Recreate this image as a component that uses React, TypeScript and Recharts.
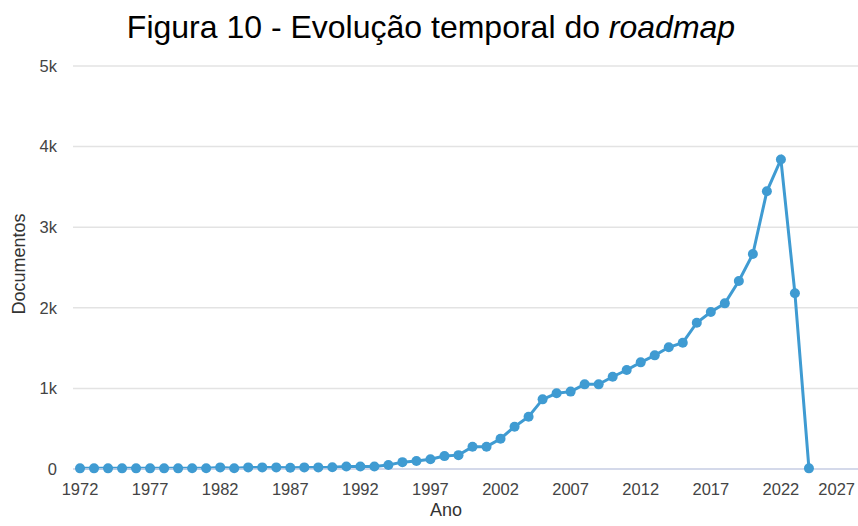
import React from "react";
import { LineChart, Line, XAxis, YAxis, CartesianGrid } from "recharts";

const years = [
  1972, 1973, 1974, 1975, 1976, 1977, 1978, 1979, 1980, 1981, 1982, 1983, 1984,
  1985, 1986, 1987, 1988, 1989, 1990, 1991, 1992, 1993, 1994, 1995, 1996, 1997,
  1998, 1999, 2000, 2001, 2002, 2003, 2004, 2005, 2006, 2007, 2008, 2009, 2010,
  2011, 2012, 2013, 2014, 2015, 2016, 2017, 2018, 2019, 2020, 2021, 2022, 2023,
  2024,
];

const documentos = [
  8, 8, 8, 8, 8, 8, 8, 8, 10, 10, 20, 10, 20,
  20, 20, 15, 20, 20, 22, 30, 30, 30, 50, 85, 100, 120,
  160, 172, 277, 277, 376, 525, 649, 864, 939, 960, 1050, 1050, 1145,
  1228, 1323, 1410, 1510, 1567, 1815, 1948, 2055, 2332, 2667, 3445, 3840, 2180,
  8,
];

const xTicks = [1972, 1977, 1982, 1987, 1992, 1997, 2002, 2007, 2012, 2017, 2022, 2027];
const yTicks = [0, 1000, 2000, 3000, 4000, 5000];

const data = years.map((year, i) => ({ year, docs: documentos[i] }));

const W = 858;
const H = 526;
const blue = "#3f9bd2";
const font = "'Liberation Sans', Arial, sans-serif";

const XTick = (props: any) => {
  const { x, y, payload } = props;
  const tooFar = x + 19 > W;
  return (
    <text
      x={tooFar ? W - 3 : x}
      y={y + 18}
      textAnchor={tooFar ? "end" : "middle"}
      fill="#444"
      fontSize={16.5}
      fontFamily={font}
    >
      {payload.value}
    </text>
  );
};

export default function App() {
  return (
    <div style={{ position: "absolute", left: 0, top: 0, width: W, height: H, background: "#fff" }}>
      <div
        style={{
          position: "absolute",
          left: 0,
          top: 11,
          width: W,
          textAlign: "center",
          fontFamily: font,
          fontSize: 32,
          lineHeight: "32px",
          color: "#000",
          paddingLeft: 4,
          boxSizing: "border-box",
        }}
      >
        Figura 10 - Evolução temporal do <i>roadmap</i>
      </div>
      <LineChart width={W} height={H} data={data} margin={{ top: 66, right: 0, bottom: 0, left: 0 }}>
        <CartesianGrid vertical={false} stroke="#e3e3e3" strokeWidth={1.5} />
        <XAxis
          type="number"
          dataKey="year"
          domain={[1971.5, 2027.5]}
          ticks={xTicks}
          height={57}
          tickLine={false}
          axisLine={{ stroke: "#cdd3ea", strokeWidth: 1.5 }}
          tick={<XTick />}
          interval={0}
          label={{
            content: () => (
              <text x={446} y={516} textAnchor="middle" fill="#333" fontSize={18} fontFamily={font}>
                Ano
              </text>
            ),
          }}
        />
        <YAxis
          width={73}
          domain={[0, 5000]}
          ticks={yTicks}
          tickLine={false}
          axisLine={false}
          tickMargin={10}
          tick={{ fill: "#444", fontSize: 16.5, fontFamily: font }}
          tickFormatter={(v: number) => (v === 0 ? "0" : `${v / 1000}k`)}
          label={{
            content: () => (
              <text
                x={18.5}
                y={264}
                transform="rotate(-90 18.5 264)"
                textAnchor="middle"
                dominantBaseline="central"
                fill="#333"
                fontSize={18}
                fontFamily={font}
              >
                Documentos
              </text>
            ),
          }}
        />
        <Line
          type="linear"
          dataKey="docs"
          stroke={blue}
          strokeWidth={3}
          dot={{ r: 5, fill: blue, stroke: "none" }}
          activeDot={false}
          isAnimationActive={false}
        />
      </LineChart>
    </div>
  );
}
